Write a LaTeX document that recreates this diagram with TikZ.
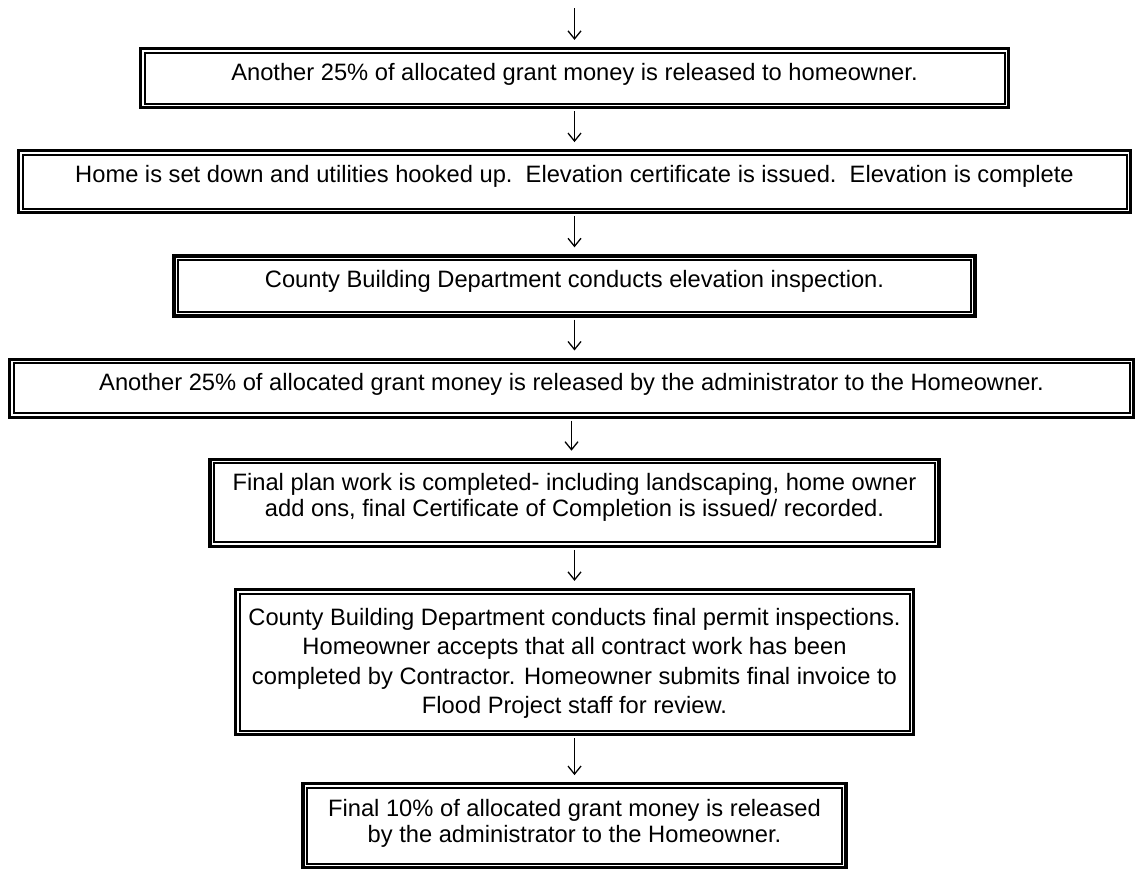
\documentclass[tikz,border=0pt]{standalone}
\usepackage{fontspec}
\setmainfont{Liberation Sans}
\usetikzlibrary{arrows.meta,positioning}

\begin{document}
\begin{tikzpicture}[
    x=1pt, y=-1pt,
    node distance=40pt,
    stepbox/.style={rectangle, draw, line width=3.2pt, align=center, inner sep=0pt,
                    font=\fontsize{23.7}{26}\selectfont},
    innerline/.style={line width=2pt},
    arrow/.style={-{Straight Barb[length=8pt,width=13pt]}, line width=1.3pt,
                  shorten <=2pt, shorten >=7pt}
]
\useasboundingbox (0,0) rectangle (1135,871);
\coordinate (top) at (574.5,8);
\node[stepbox, minimum width=868pt, minimum height=59pt, text depth=13pt] (b1) at (574.5,78)
    {Another 25\% of allocated grant money is released to homeowner.};
\node[stepbox, minimum width=1112pt, minimum height=62pt, text depth=16pt, below=of b1] (b2)
    {Home is set down and utilities hooked up.\ \ Elevation certificate is issued.\ \ Elevation is complete};
\node[stepbox, minimum width=801pt, minimum height=60pt, text depth=14pt, below=of b2] (b3)
    {County Building Department conducts elevation inspection.};
\node[stepbox, minimum width=1124pt, minimum height=58pt, text depth=12pt, below=of b3, xshift=-3pt] (b4)
    {Another 25\% of allocated grant money is released by the administrator to the Homeowner.};
\node[stepbox, minimum width=729pt, minimum height=87pt, text depth=15pt, below=39pt of b4, xshift=3pt] (b5)
    {Final plan work is completed- including landscaping, home owner\\add ons, final Certificate of Completion is issued/ recorded.};
\node[stepbox, minimum width=678pt, minimum height=145pt, text depth=2.5pt, below=of b5,
      font=\fontsize{23.7}{29.5}\selectfont] (b6)
    {County Building Department conducts final permit inspections.\\Homeowner accepts that all contract work has been\\completed by Contractor. Homeowner submits final invoice to\\Flood Project staff for review.};
\node[stepbox, minimum width=543pt, minimum height=84pt, text depth=10pt, below=46pt of b6] (b7)
    {Final 10\% of allocated grant money is released\\by the administrator to the Homeowner.};
\foreach \i in {1,...,7}
    \draw[innerline] ([xshift=5.6pt,yshift=-5.6pt]b\i.north west) rectangle ([xshift=-5.6pt,yshift=5.6pt]b\i.south east);
\draw[arrow, shorten <=0pt] (top) -- (b1.north);
\foreach \i [evaluate=\i as \j using int(\i+1)] in {1,...,6}
    \draw[arrow] (b\i.south) -- (b\i.south |- b\j.north);
\end{tikzpicture}
\end{document}
